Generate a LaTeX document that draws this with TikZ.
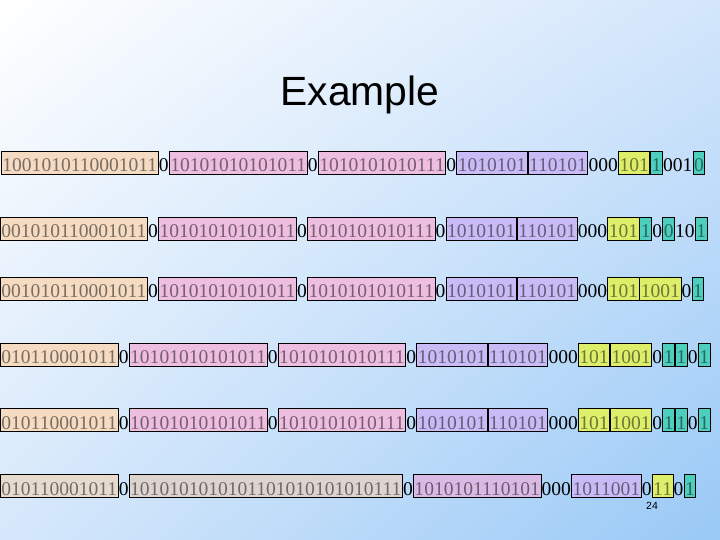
\documentclass[tikz,border=0pt]{standalone}
\usepackage{fontspec}
\setmainfont{Liberation Serif}
\newfontfamily\slidesans{Liberation Sans}
\usetikzlibrary{positioning,shadings}

\definecolor{peachfill}{HTML}{F5DBC2}
\definecolor{pinkfill}{HTML}{EDBEE0}
\definecolor{lilacfill}{HTML}{C9BCF6}
\definecolor{limefill}{HTML}{DDEE6A}
\definecolor{tealfill}{HTML}{4DCFBF}
\definecolor{sandfill}{HTML}{E7DBCE}
\definecolor{stonefill}{HTML}{DDD4CF}
\definecolor{orchidfill}{HTML}{DAB9E4}
\definecolor{skyTR}{HTML}{D3E6FB}
\definecolor{skyBL}{HTML}{D6E8FB}
\definecolor{skyBR}{HTML}{99C9F6}

\begin{document}
\begin{tikzpicture}[
  x=1bp, y=-1bp,
  node distance=0pt,
  bits/.style={inner xsep=0pt, inner ysep=0pt, minimum height=23bp,
               text height=18bp, text depth=0bp, anchor=west,
               font=\fontsize{19.6}{22}\selectfont},
  box/.style={bits, inner xsep=1bp, draw=black, line width=0.9pt,
              fill=#1, text=#1!50!black},
  peachbox/.style={box=peachfill},
  pinkbox/.style={box=pinkfill},
  lilacbox/.style={box=lilacfill},
  limebox/.style={box=limefill},
  tealbox/.style={box=tealfill},
  sandbox/.style={box=sandfill},
  stonebox/.style={box=stonefill},
  orchidbox/.style={box=orchidfill}
]
% slide background
\shade[upper left=white, upper right=skyTR, lower left=skyBL, lower right=skyBR]
  (0,0) rectangle (720,540);
\useasboundingbox (0,0) rectangle (720,540);

\node[font=\slidesans\fontsize{41}{46}\selectfont] (title) at (360,95) {Example};

% row 1
\node[peachbox] (a1) at (1,163) {1001010110001011};
\node[bits, right=of a1]      (a1g) {0};
\node[pinkbox, right=of a1g]  (b1)  {10101010101011};
\node[bits, right=of b1]      (b1g) {0};
\node[pinkbox, right=of b1g]  (c1)  {1010101010111};
\node[bits, right=of c1]      (c1g) {0};
\node[lilacbox, right=of c1g] (d1)  {1010101};
\node[lilacbox, right=of d1]  (e1)  {110101};
\node[bits, right=of e1]      (e1g) {000};
\node[limebox, right=of e1g]  (f1)  {101};
\node[tealbox, right=of f1]   (g1)  {1};
\node[bits, right=of g1]      (g1g) {001};
\node[tealbox, right=of g1g]  (h1)  {0};

% row 2
\node[peachbox] (a2) at (0,228.5) {001010110001011};
\node[bits, right=of a2]      (a2g) {0};
\node[pinkbox, right=of a2g]  (b2)  {10101010101011};
\node[bits, right=of b2]      (b2g) {0};
\node[pinkbox, right=of b2g]  (c2)  {1010101010111};
\node[bits, right=of c2]      (c2g) {0};
\node[lilacbox, right=of c2g] (d2)  {1010101};
\node[lilacbox, right=of d2]  (e2)  {110101};
\node[bits, right=of e2]      (e2g) {000};
\node[limebox, right=of e2g]  (f2)  {101};
\node[tealbox, right=of f2]   (g2)  {1};
\node[bits, right=of g2]      (g2g) {0};
\node[tealbox, right=of g2g]  (h2)  {0};
\node[bits, right=of h2]      (h2g) {10};
\node[tealbox, right=of h2g]  (i2)  {1};

% row 3
\node[peachbox] (a3) at (0,288.5) {001010110001011};
\node[bits, right=of a3]      (a3g) {0};
\node[pinkbox, right=of a3g]  (b3)  {10101010101011};
\node[bits, right=of b3]      (b3g) {0};
\node[pinkbox, right=of b3g]  (c3)  {1010101010111};
\node[bits, right=of c3]      (c3g) {0};
\node[lilacbox, right=of c3g] (d3)  {1010101};
\node[lilacbox, right=of d3]  (e3)  {110101};
\node[bits, right=of e3]      (e3g) {000};
\node[limebox, right=of e3g]  (f3)  {101};
\node[limebox, right=of f3]   (ff3) {1001};
\node[bits, right=of ff3]     (f3g) {0};
\node[tealbox, right=of f3g]  (i3)  {1};

% rows 4 and 5
\foreach \r/\y in {4/354.5, 5/420} {
  \node[peachbox] (a\r) at (0,\y) {010110001011};
  \node[bits, right=of a\r]       (a\r g) {0};
  \node[pinkbox, right=of a\r g]  (b\r)   {10101010101011};
  \node[bits, right=of b\r]       (b\r g) {0};
  \node[pinkbox, right=of b\r g]  (c\r)   {1010101010111};
  \node[bits, right=of c\r]       (c\r g) {0};
  \node[lilacbox, right=of c\r g] (d\r)   {1010101};
  \node[lilacbox, right=of d\r]   (e\r)   {110101};
  \node[bits, right=of e\r]       (e\r g) {000};
  \node[limebox, right=of e\r g]  (f\r)   {101};
  \node[limebox, right=of f\r]    (ff\r)  {1001};
  \node[bits, right=of ff\r]      (f\r g) {0};
  \node[tealbox, right=of f\r g]  (g\r)   {1};
  \node[tealbox, right=of g\r]    (h\r)   {1};
  \node[bits, right=of h\r]       (h\r g) {0};
  \node[tealbox, right=of h\r g]  (i\r)   {1};
}

% row 6
\node[sandbox] (a6) at (0,486) {010110001011};
\node[bits, right=of a6]       (a6g) {0};
\node[stonebox, right=of a6g]  (b6)  {1010101010101101010101010111};
\node[bits, right=of b6]       (b6g) {0};
\node[orchidbox, right=of b6g] (c6)  {1010101110101};
\node[bits, right=of c6]       (c6g) {000};
\node[lilacbox, right=of c6g]  (d6)  {1011001};
\node[bits, right=of d6]       (d6g) {0};
\node[limebox, right=of d6g]   (e6)  {11};
\node[bits, right=of e6]       (e6g) {0};
\node[tealbox, right=of e6g]   (f6)  {1};

\node[font=\slidesans\fontsize{10.5}{12}\selectfont] (page) at (652,505.5) {24};
\end{tikzpicture}
\end{document}
